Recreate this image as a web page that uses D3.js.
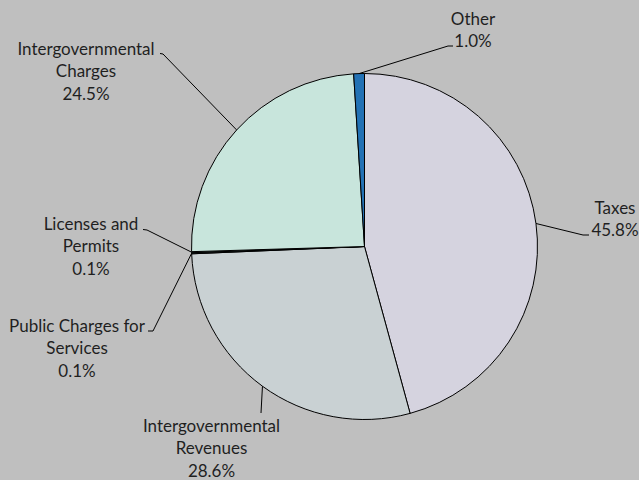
<!DOCTYPE html>
<html>
<head>
<meta charset="utf-8">
<script src="https://cdn.jsdelivr.net/npm/d3@7/dist/d3.min.js"></script>
<style>
  html, body { margin: 0; padding: 0; background: #bfbfbf; }
  svg { display: block; }
  text { font-family: Lato, "Open Sans", sans-serif; fill: #1f1f1f; }
</style>
</head>
<body>
<svg id="chart" width="639" height="480"></svg>
<script>
// Revenue sources, share of total (%)
const categories = ["Taxes", "Intergovernmental Revenues", "Public Charges for Services",
                    "Licenses and Permits", "Intergovernmental Charges", "Other"];
const values = [45.8, 28.6, 0.1, 0.1, 24.5, 1.0];
const labelLines = [
  ["Taxes"],
  ["Intergovernmental", "Revenues"],
  ["Public Charges for", "Services"],
  ["Licenses and", "Permits"],
  ["Intergovernmental", "Charges"],
  ["Other"]
];
const colors = ["#d5d3df", "#c9d1d3", "#56676a", "#3c6c60", "#c8e5dc", "#2372b5"];

// Label placement: block centre x, first line centre y, leader elbow and stub end
const labelLayout = [
  { x: 615,   y: 208, elbow: [583, 235], stub: [589, 235] },
  { x: 211.5, y: 426, elbow: [261, 413], stub: [261, 413] },
  { x: 77,    y: 326, elbow: [153, 331], stub: [148, 331] },
  { x: 91,    y: 224, elbow: [147, 230], stub: [143, 229.5] },
  { x: 86,    y: 49,  elbow: [163, 54],  stub: [160, 53.5] },
  { x: 473,   y: 19,  elbow: [448, 46],  stub: [453, 46] }
];

const cx = 364.5, cy = 246.5, r = 173;
const lineH = 22.4;

const svg = d3.select("#chart");
const g = svg.append("g").attr("transform", `translate(${cx},${cy})`);

const pie = d3.pie().sort(null).value(d => d.value);
const arcs = pie(values.map((v, i) => ({ value: v, i })));
const arc = d3.arc().innerRadius(0).outerRadius(r);

g.selectAll("path.slice")
  .data(arcs)
  .join("path")
  .attr("class", "slice")
  .attr("d", arc)
  .attr("fill", d => colors[d.data.i])
  .attr("stroke", "#000")
  .attr("stroke-width", 1)
  .attr("stroke-linejoin", "round");

// Leader lines from each slice's outer edge midpoint to its label
const edgePoint = d => {
  const a = (d.startAngle + d.endAngle) / 2;
  return [cx + r * Math.sin(a), cy - r * Math.cos(a)];
};

svg.selectAll("path.leader")
  .data(arcs)
  .join("path")
  .attr("class", "leader")
  .attr("d", d => {
    const L = labelLayout[d.data.i];
    return d3.line()([edgePoint(d), L.elbow, L.stub]);
  })
  .attr("fill", "none")
  .attr("stroke", "#000")
  .attr("stroke-width", 1);

const fmt = d3.format(".1f");
const labels = svg.selectAll("text.label")
  .data(arcs)
  .join("text")
  .attr("class", "label")
  .attr("text-anchor", "middle")
  .attr("font-size", 17)
  .attr("x", d => labelLayout[d.data.i].x)
  .attr("y", d => labelLayout[d.data.i].y);

labels.each(function(d) {
  const L = labelLayout[d.data.i];
  const lines = labelLines[d.data.i].concat([fmt(d.data.value) + "%"]);
  d3.select(this).selectAll("tspan")
    .data(lines)
    .join("tspan")
    .attr("x", L.x)
    .attr("y", (t, k) => L.y + k * lineH)
    .attr("dy", "0.35em")
    .text(t => t);
});
</script>
</body>
</html>
